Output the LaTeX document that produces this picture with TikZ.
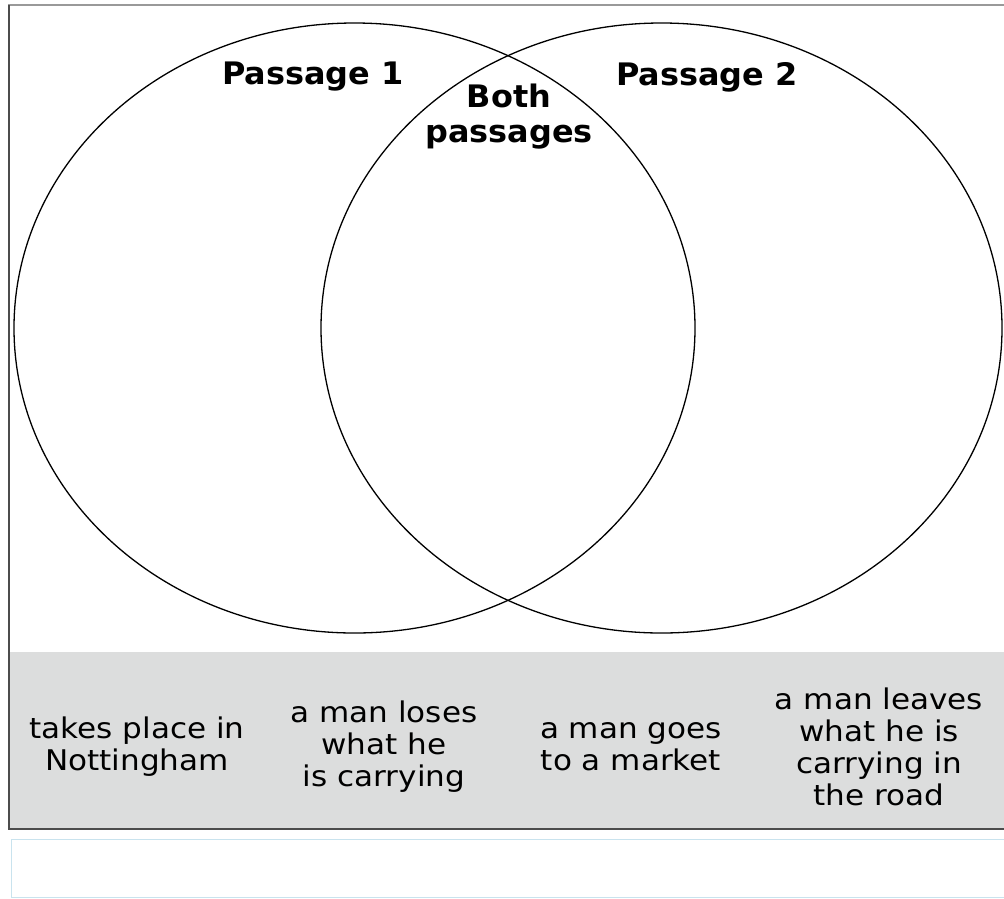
\documentclass[tikz,border=0pt]{standalone}
\usepackage{fontspec}
\setmainfont{DejaVu Sans}
\newfontfamily\hdfont[FakeStretch=1.03]{DejaVu Sans}
\newfontfamily\itfont[FakeStretch=1.09]{DejaVu Sans}
\usetikzlibrary{shapes.geometric}
\definecolor{panelgray}{HTML}{DCDDDD}
\definecolor{boxblue}{HTML}{C9E3EE}

\begin{document}
\begin{tikzpicture}[x=1pt,y=-1pt]
    \tikzset{
      set/.style={ellipse,draw,line width=1.3pt,minimum width=681pt,minimum height=610pt,inner sep=0pt},
      hd/.style={font=\hdfont\fontsize{31}{35}\selectfont\bfseries,align=center,inner sep=0pt},
      it/.style={font=\itfont\fontsize{28.5}{32}\selectfont,align=center,inner sep=0pt}}
    \useasboundingbox (0,0) rectangle (1004,898);
    \fill[white] (0,0) rectangle (1004,898);
    \node[draw=none,fill=panelgray,minimum width=1000pt,minimum height=176pt,anchor=north west,inner sep=0pt] (bank) at (9,652) {};
    \draw[line width=2.5pt,gray!80] (8,5) -- (1010,5);
    \draw[line width=1.5pt,black!70] (9,5) -- (9,829) -- (1010,829);
    \node[draw=boxblue,line width=1pt,minimum width=1000pt,minimum height=58pt,anchor=north west,inner sep=0pt] (ans) at (11,839) {};
    \node[set] (p1) at (354.5,328) {};
    \node[set] (p2) at (661.5,328) {};
    \node[hd] (h1) at (313,77) {Passage 1};
    \node[hd] (h2) at (707,77) {Passage 2};
    \node[hd] (hb) at (509,117) {Both\\passages};
    \node[it] (c1) at (137,747) {takes place in\\Nottingham};
    \node[it] (c2) at (384,747) {a man loses\\what he\\is carrying};
    \node[it] (c3) at (631,747) {a man goes\\to a market};
    \node[it] (c4) at (879,747) {a man leaves\\what he is\\carrying in\\the road};
  \end{tikzpicture}
\end{document}
